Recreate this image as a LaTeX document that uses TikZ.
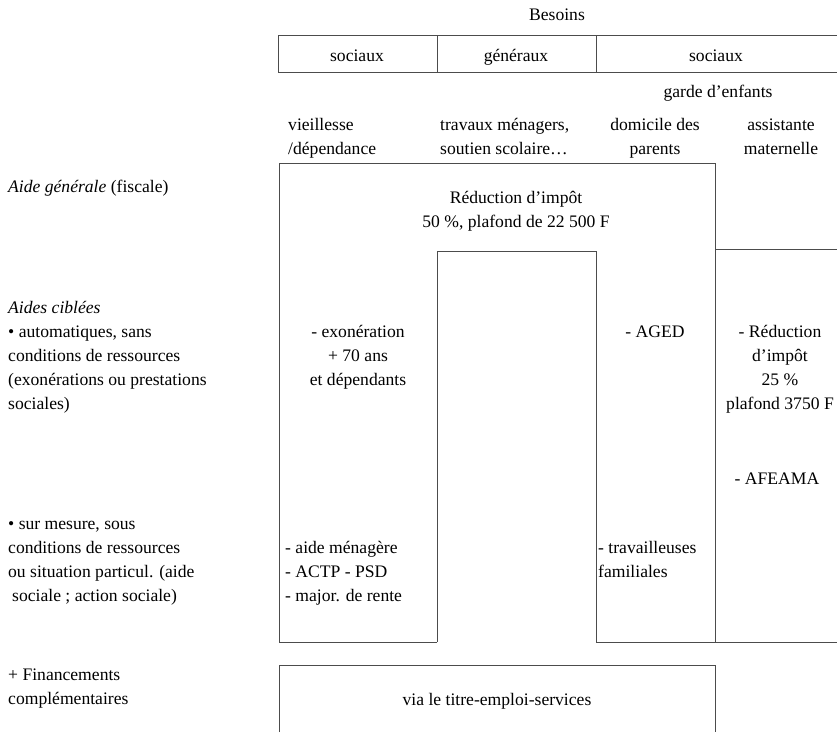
\documentclass[tikz,border=0pt]{standalone}
\usepackage{fontspec}
\setmainfont{Liberation Serif}
\begin{document}
\begin{tikzpicture}[x=1pt,y=-1pt]
\tikzset{
 rule/.style={draw=black!70, line width=0.9pt},
 lbl/.style={inner sep=0pt, font=\fontsize{17.6}{24}\selectfont},
 lft/.style={lbl, align=left, anchor=base west},
 ctr/.style={lbl, align=center, anchor=base},
}
\useasboundingbox (0,0) rectangle (837,732);
% header
\draw[rule] (837,35) -- (278,35) -- (278,72) -- (837,72);
\draw[rule] (437,35) -- (437,72);
\draw[rule] (596,35) -- (596,72);
% main outline
\draw[rule] (437,642) -- (279,642) -- (279,163) -- (715,163) -- (715,642);
\draw[rule] (437,642) -- (437,251) -- (596,251) -- (596,642) -- (837,642);
\draw[rule] (715,249) -- (837,249);
% bottom box
\draw[rule] (279,732) -- (279,665) -- (715,665) -- (715,732);
% texts (base anchor = baseline of last line)
\node[ctr] (besoins) at (557,20) {Besoins};
\node[ctr] (h1) at (357,61) {sociaux};
\node[ctr] (h2) at (516,61) {généraux};
\node[ctr] (h3) at (716,61) {sociaux};
\node[ctr] (garde) at (718,97) {garde d’enfants};
\node[lft] (vieil) at (288,154) {vieillesse\\/dépendance};
\node[lft] (trav) at (440,154) {travaux ménagers,\\soutien scolaire…};
\node[ctr] (domi) at (655,154) {domicile des\\parents};
\node[ctr] (assi) at (781,154) {assistante\\maternelle};
\node[ctr] (red) at (516,227) {Réduction d’impôt\\50 \%, plafond de 22 500 F};
\node[lft] (aideg) at (8,192) {\textit{Aide générale} (fiscale)};
\node[lft] (cibl) at (8,409) {\textit{Aides ciblées}\\• automatiques, sans\\conditions de ressources\\(exonérations ou prestations\\sociales)};
\node[ctr] (exo) at (358,385) {- exonération\\+ 70 ans\\et dépendants};
\node[ctr] (aged) at (655,337) {- AGED};
\node[ctr] (red2) at (780,409) {- Réduction\\d’impôt\\25 \%\\plafond 3750 F};
\node[ctr] (afeama) at (777,484) {- AFEAMA};
\node[lft] (mesure) at (8,601) {• sur mesure, sous\\conditions de ressources\\ou situation particul. (aide\\\hspace{4pt}sociale ; action sociale)};
\node[lft] (menag) at (285,601) {- aide ménagère\\- ACTP - PSD\\- major. de rente};
\node[lft] (trav2) at (598,577) {- travailleuses\\familiales};
\node[lft] (fin) at (8,704) {+ Financements\\complémentaires};
\node[ctr] (via) at (497,705) {via le titre-emploi-services};
\end{tikzpicture}
\end{document}
